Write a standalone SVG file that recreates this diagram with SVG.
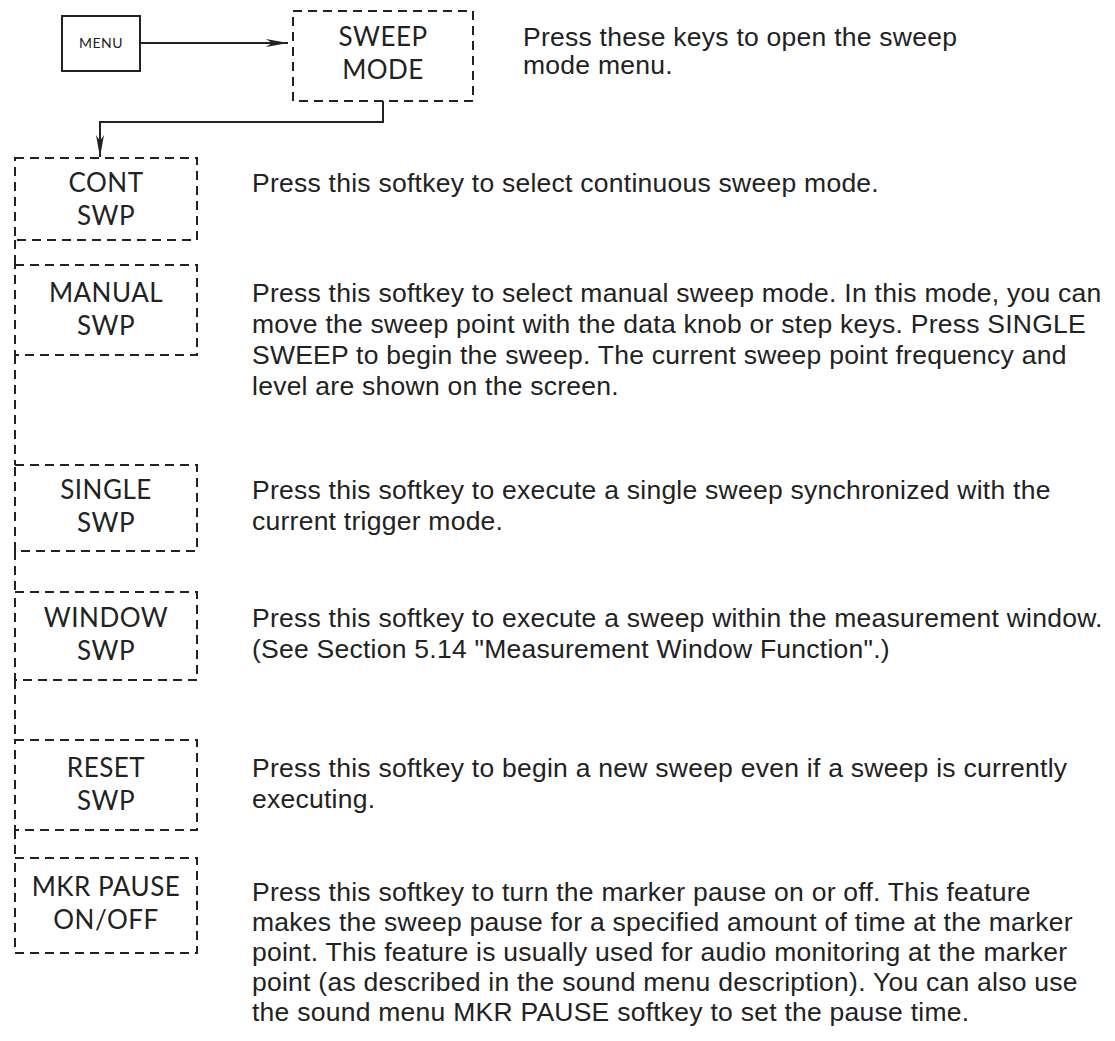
<svg xmlns="http://www.w3.org/2000/svg" width="1115" height="1041" viewBox="0 0 1115 1041">
<style>
.bg{fill:#fff}
.key{fill:none;stroke:#222;stroke-width:2}
.soft{fill:none;stroke:#222;stroke-width:2;stroke-dasharray:9 6}
.lbl{font-family:Lato,"Open Sans",sans-serif;font-size:26px;fill:#222;text-anchor:middle;letter-spacing:0.5px}
.small{font-family:Lato,"Open Sans",sans-serif;font-size:14px;fill:#222;text-anchor:middle;letter-spacing:0.5px}
.desc{font-family:"Liberation Sans",Arial,sans-serif;font-size:26.5px;fill:#222;letter-spacing:0.25px}
.wire{fill:none;stroke:#222;stroke-width:2}
.spine{fill:none;stroke:#222;stroke-width:2;stroke-dasharray:9 6}
</style>
<defs>
<marker id="ah" viewBox="0 0 22 10" refX="22" refY="5" markerWidth="22" markerHeight="10" markerUnits="userSpaceOnUse" orient="auto">
<path d="M0,1 L22,5 L0,9 L6,5 Z" fill="#222"/>
</marker>
</defs>
<rect class="bg" x="0" y="0" width="1115" height="1041"/>

<g id="connectors">
<line class="wire" x1="140" y1="43" x2="288" y2="43" marker-end="url(#ah)"/>
<polyline class="wire" points="383,101 383,122 100,122 100,157" marker-end="url(#ah)"/>
<line class="spine" x1="15" y1="240" x2="15" y2="265"/>
<line class="spine" x1="15" y1="355" x2="15" y2="465"/>
<line class="spine" x1="15" y1="551" x2="15" y2="592"/>
<line class="spine" x1="15" y1="680" x2="15" y2="740"/>
<line class="spine" x1="15" y1="830" x2="15" y2="858"/>
</g>

<g id="menu">
<rect class="key" x="62" y="16" width="78" height="55"/>
<text class="small" x="101" y="48">MENU</text>
</g>

<g id="sweep-mode">
<rect class="soft" x="293" y="11" width="180" height="90"/>
<text class="lbl" x="383" y="46">SWEEP</text>
<text class="lbl" x="383" y="79">MODE</text>
<text class="desc" x="523" y="46">Press these keys to open the sweep</text>
<text class="desc" x="523" y="74">mode menu.</text>
</g>

<g id="cont-swp">
<rect class="soft" x="15" y="158" width="182" height="82"/>
<text class="lbl" x="106" y="192">CONT</text>
<text class="lbl" x="106" y="225">SWP</text>
<text class="desc" x="252" y="192">Press this softkey to select continuous sweep mode.</text>
</g>

<g id="manual-swp">
<rect class="soft" x="15" y="265" width="182" height="90"/>
<text class="lbl" x="106" y="302">MANUAL</text>
<text class="lbl" x="106" y="335">SWP</text>
<text class="desc" x="252" y="302">Press this softkey to select manual sweep mode. In this mode, you can</text>
<text class="desc" x="252" y="333">move the sweep point with the data knob or step keys. Press SINGLE</text>
<text class="desc" x="252" y="364">SWEEP to begin the sweep. The current sweep point frequency and</text>
<text class="desc" x="252" y="395">level are shown on the screen.</text>
</g>

<g id="single-swp">
<rect class="soft" x="15" y="465" width="182" height="86"/>
<text class="lbl" x="106" y="499">SINGLE</text>
<text class="lbl" x="106" y="532">SWP</text>
<text class="desc" x="252" y="499">Press this softkey to execute a single sweep synchronized with the</text>
<text class="desc" x="252" y="530">current trigger mode.</text>
</g>

<g id="window-swp">
<rect class="soft" x="15" y="592" width="182" height="88"/>
<text class="lbl" x="106" y="627">WINDOW</text>
<text class="lbl" x="106" y="660">SWP</text>
<text class="desc" x="252" y="627">Press this softkey to execute a sweep within the measurement window.</text>
<text class="desc" x="252" y="658">(See Section 5.14 "Measurement Window Function".)</text>
</g>

<g id="reset-swp">
<rect class="soft" x="15" y="740" width="182" height="90"/>
<text class="lbl" x="106" y="777">RESET</text>
<text class="lbl" x="106" y="810">SWP</text>
<text class="desc" x="252" y="777">Press this softkey to begin a new sweep even if a sweep is currently</text>
<text class="desc" x="252" y="808">executing.</text>
</g>

<g id="mkr-pause">
<rect class="soft" x="15" y="858" width="182" height="95"/>
<text class="lbl" x="106" y="896">MKR PAUSE</text>
<text class="lbl" x="106" y="929">ON/OFF</text>
<text class="desc" x="252" y="901">Press this softkey to turn the marker pause on or off. This feature</text>
<text class="desc" x="252" y="931">makes the sweep pause for a specified amount of time at the marker</text>
<text class="desc" x="252" y="961">point. This feature is usually used for audio monitoring at the marker</text>
<text class="desc" x="252" y="991">point (as described in the sound menu description). You can also use</text>
<text class="desc" x="252" y="1021">the sound menu MKR PAUSE softkey to set the pause time.</text>
</g>
</svg>
